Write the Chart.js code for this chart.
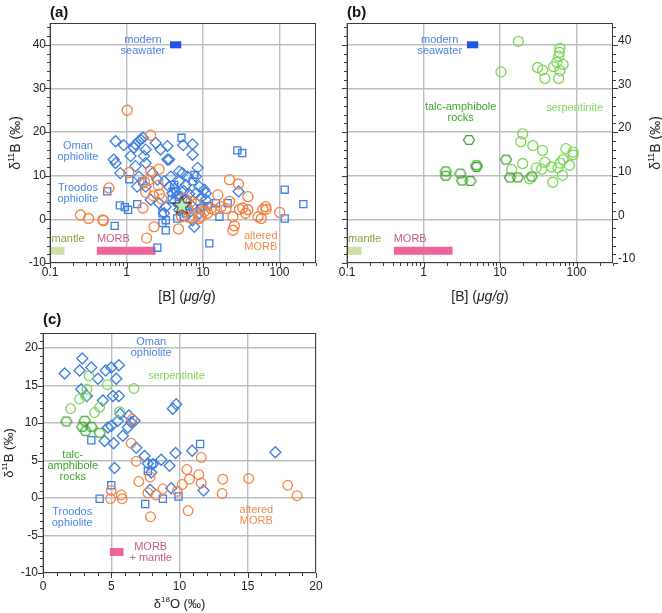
<!DOCTYPE html>
<html>
<head>
<meta charset="utf-8">
<script src="https://cdn.jsdelivr.net/npm/chart.js@4.4.1/dist/chart.umd.min.js"></script>
<style>
  body { margin: 0; background: #fff; width: 662px; height: 613px; position: relative; overflow: hidden; }
  canvas { position: absolute; }
</style>
</head>
<body>
<canvas id="ca" width="330" height="310" style="left:0;top:0"></canvas>
<canvas id="cb" width="332" height="310" style="left:330px;top:0"></canvas>
<canvas id="cc" width="330" height="313" style="left:0;top:300px"></canvas>
<script>
  // --- tick values ---
  const bMajor = [0.1, 1, 10, 100];
  const bMinor = [0.2, 0.3, 0.4, 0.5, 0.6, 0.7, 0.8, 0.9, 2, 3, 4, 5, 6, 7, 8, 9, 20, 30, 40, 50, 60, 70, 80, 90, 200, 300];
  const d11Major = [-10, 0, 10, 20, 30, 40];
  const d11Minor = [-8, -6, -4, -2, 2, 4, 6, 8, 12, 14, 16, 18, 22, 24, 26, 28, 32, 34, 36, 38, 42, 44];
  const o18Major = [0, 5, 10, 15, 20];
  const o18Minor = [1, 2, 3, 4, 6, 7, 8, 9, 11, 12, 13, 14, 16, 17, 18, 19];
  const d11MajorC = [-10, -5, 0, 5, 10, 15, 20];
  const d11MinorC = [-9, -8, -7, -6, -4, -3, -2, -1, 1, 2, 3, 4, 6, 7, 8, 9, 11, 12, 13, 14, 16, 17, 18, 19, 21, 22];

  // --- (a) [B] (ug/g) vs d11B ---
  const omanA = [[0.72,17.9],[0.92,17.0],[0.68,13.7],[0.72,12.9],[0.83,10.6],[1.13,14.5],[1.25,16.4],[1.31,17.2],[1.45,17.9],[1.53,18.3],
    [1.64,18.7],[1.31,12.2],[1.69,14.5],[1.78,16.0],[1.78,12.9],[2.41,17.5],[2.8,16.0],[3.43,16.8],[3.43,13.7],[5.5,17.0],
    [7.3,17.2],[7.31,14.8],[8.51,11.8],[3.61,13.7],[5.4,10.6],[1.45,9.8],[2.18,10.6],[2.53,9.1],[3.79,9.8],[4.88,11.0],
    [6.28,9.8],[8.09,9.8],[1.38,7.5],[1.78,7.5],[3.1,8.7],[3.61,7.5],[4.88,8.7],[5.98,7.9],[8.95,7.5],[10.4,6.8],
    [10.9,6.0],[2.07,4.5],[2.66,3.7],[3.26,2.9],[3.99,6.0],[5.14,5.2],[5.98,4.5],[8.09,6.0],[10.9,4.5],[9.9,2.9],
    [3.1,1.4],[4.88,2.2],[7.31,-0.2],[7.69,-1.7],[8.95,1.4],[4.2,7.0],[4.6,5.5],[5.6,6.5],[6.6,5.8],[7.2,3.0],
    [6.3,2.0],[4.3,4.2],[9.5,5.0],[29.2,6.4]];
  const troodosA = [[5.24,18.7],[28.1,15.8],[32.6,15.2],[0.56,6.4],[0.82,3.2],[0.95,2.8],[1.05,2.2],[1.09,9.2],[1.38,3.5],[0.70,-1.5],
    [2.53,-6.5],[12.1,-5.5],[117,6.8],[117,0.2],[205,3.5],[16.4,0.6],[14.8,3.7],[21,3.7],[2.95,1.4],[3.26,-0.2],
    [3.26,-2.5],[2.95,-0.8],[4.6,0.2],[6.0,1.4],[7.7,10.2],[7.3,8.7],[4.2,7.9],[4.4,6.4],[1.61,8.7],[3.9,4.5],
    [5.6,0.5],[9.2,2.5],[11.5,3.0]];
  const alteredA = [[1.02,25.0],[2.07,19.3],[1.07,10.7],[2.66,11.5],[2.07,11.0],[1.72,8.6],[1.78,6.2],[2.6,7.8],[2.24,5.4],[2.7,5.8],
    [0.59,7.2],[0.25,1.0],[0.32,0.2],[0.49,-0.1],[0.5,-0.3],[1.64,2.6],[2.29,-1.7],[1.83,-4.3],[4.78,-2.2],[6.28,2.2],
    [5.25,0.6],[8.1,3.5],[8.9,0.2],[11.5,1.4],[15.6,5.6],[14.1,2.2],[17.2,2.9],[22.2,9.1],[29.1,8.1],[22.2,4.1],
    [24.6,0.6],[24.6,-2.5],[25.7,-1.5],[30,2.3],[38.7,5.2],[38.7,2.2],[36,1.4],[52.5,0.6],[57.9,0.2],[66,2.9],
    [67,2.3],[60.7,2.3],[100.7,1.6],[7.0,4.1],[9.4,0.6],[10.4,1.8],[12.7,2.5],[7.2,0.3],[6.5,0.5],[5.8,4.8],
    [20,2.5],[33,2.6],[2.9,4.7],[1.95,9.0]];
  const refMeanA = [[5.3, 3.3]];

  // --- (b) ---
  const serpB = [[17.4,40.8],[10.3,33.8],[31,34.8],[36,34.2],[38.6,32.3],[50.3,35.0],[55.2,36.0],[60.7,39.2],[60,38.3],[58.5,37.4],
    [60.7,34.1],[58.5,32.3],[66.8,35.5],[19.8,19.6],[18.7,17.8],[26.9,16.9],[36,15.8],[19.8,12.8],[14.2,11.4],[38.6,13.1],
    [29.7,11.8],[35,11.5],[47,12.0],[57.3,11.8],[61,12.9],[66.8,13.7],[72.6,16.2],[90,15.4],[90,14.8],[80.8,12.4],
    [65.5,10.1],[49,8.5],[24.3,9.3]];
  const talcB = [[3.94,18.2],[1.95,11.0],[1.95,10.0],[3.03,10.5],[3.2,8.9],[4.1,8.8],[4.93,12.4],[4.93,12.0],[12.0,13.7],[13.5,9.6],
    [17.1,9.6],[26,9.8]];

  // reference ranges (B in ug/g, d11B)
  const seawaterB = [3.7, 5.2], seawaterD11 = 40;
  const mantleB = [0.1, 0.155], morbB = [0.41, 2.4], morbD11 = -7.2;

  // --- (c) d18O vs d11B ---
  const omanC = [[1.59,16.6],[2.88,18.6],[2.68,17.0],[3.54,17.4],[4.02,15.9],[4.59,17.0],[5.0,17.4],[5.56,17.7],[5.37,15.9],[2.8,14.5],
    [3.22,13.6],[4.39,13.0],[5.12,13.6],[5.56,13.6],[4.76,9.4],[5.0,9.6],[5.49,10.3],[5.66,11.2],[5.85,8.3],[6.22,9.4],
    [6.29,11.0],[6.46,10.1],[6.71,10.3],[4.51,7.6],[5.17,7.3],[5.24,4.0],[6.83,6.7],[7.44,5.6],[7.68,4.6],[7.93,3.4],
    [8.05,4.5],[8.66,5.1],[9.27,4.3],[9.39,1.3],[9.71,6.0],[9.51,11.9],[9.76,12.5],[10.93,6.3],[11.76,1.0],[17.02,6.1],
    [7.85,1.1]];
  const troodosC = [[3.54,7.7],[4.15,-0.1],[5.0,1.7],[7.49,-0.8],[7.68,3.6],[8.0,4.6],[8.78,-0.1],[9.93,0.2],[11.51,7.2]];
  const alteredC = [[6.54,10.5],[6.46,7.3],[6.83,4.9],[7.02,2.2],[5.0,1.0],[4.95,-0.1],[5.73,0.4],[5.8,-0.1],[7.68,0.7],[7.85,2.8],
    [7.88,-2.5],[8.29,0.4],[8.78,1.2],[9.83,0.9],[10.2,1.8],[10.54,3.8],[10.73,2.5],[10.63,-1.7],[11.41,3.1],[11.59,5.4],
    [11.59,2.0],[13.17,2.5],[13.12,0.6],[15.07,2.6],[17.93,1.7],[18.61,0.3]];
  const serpC = [[3.37,16.3],[3.22,14.5],[2.68,13.2],[2.02,11.9],[3.12,13.6],[3.78,11.4],[4.15,12.1],[4.71,15.1],[5.61,11.5],[6.66,14.6]];
  const talcC = [[1.71,10.2],[3.05,10.3],[2.88,9.5],[3.12,8.9],[3.54,9.5],[4.15,8.7]];
  const morbMantleO = [4.9, 5.9], morbMantleD11 = -7.2;

  const FONT = '"Liberation Sans", Arial, Helvetica, sans-serif';
  const BLUE = '#3c7ee2', ORANGE = '#f5813f', LGREEN = '#7dd65a', DGREEN = '#3ba52b';
  const PINK = '#f0649c', MANTLE = '#cfe0a6', SEA = '#1f55e6';
  const TXT_BLUE = '#4a84e4', TXT_ORANGE = '#f28a4e', TXT_MANTLE = '#8e9d3f', TXT_MORB = '#c65b8c';

  function hexImg(r, color, lw) {
    const s = Math.ceil(2 * r + 2 * lw + 2);
    const c = document.createElement("canvas"); c.width = c.height = s;
    const g = c.getContext("2d");
    g.strokeStyle = color; g.lineWidth = lw; g.beginPath();
    for (let i = 0; i < 6; i++) {
      const t = i * Math.PI / 3, px = s / 2 + r * Math.cos(t), py = s / 2 + r * 0.9 * Math.sin(t);
      i ? g.lineTo(px, py) : g.moveTo(px, py);
    }
    g.closePath(); g.stroke();
    return c;
  }
  function starImg(ro, ri) {
    const s = Math.ceil(2 * ro + 4);
    const c = document.createElement("canvas"); c.width = c.height = s;
    const g = c.getContext("2d");
    g.beginPath();
    for (let i = 0; i < 10; i++) {
      const r = i % 2 ? ri : ro, t = -Math.PI / 2 + i * Math.PI / 5;
      const px = s / 2 + r * Math.cos(t), py = s / 2 + 1 + r * Math.sin(t);
      i ? g.lineTo(px, py) : g.moveTo(px, py);
    }
    g.closePath();
    g.fillStyle = "#b9efb4"; g.fill();
    g.strokeStyle = "#111"; g.lineWidth = 1; g.stroke();
    return c;
  }
  const HEX = hexImg(5.5, DGREEN, 1.3);
  const STAR = starImg(9.5, 4);

  const pts = (arr) => arr.map((p) => ({ x: p[0], y: p[1] }));
  function pointSet(arr, style, color, r) {
    return { data: pts(arr), pointStyle: style, pointRadius: r, borderColor: color, pointBorderColor: color,
      backgroundColor: "rgba(0,0,0,0)", pointBackgroundColor: "rgba(0,0,0,0)", pointBorderWidth: 1.3, showLine: false };
  }
  function barSet(xr, y, color, w) {
    return { data: [{ x: xr[0], y: y }, { x: xr[1], y: y }], showLine: true, borderColor: color, borderWidth: w,
      borderCapStyle: "butt", pointRadius: 0, fill: false };
  }

  function drawSegs(ctx, segs, x, y, size, align) {
    const fontOf = (s) => `${s.it ? "italic " : ""}${s.sup ? Math.round(size * 0.62) : size}px ${FONT}`;
    let w = 0;
    segs.forEach((s) => { ctx.font = fontOf(s); s.w = ctx.measureText(s.t).width; w += s.w; });
    let cx = align === "center" ? x - w / 2 : x;
    ctx.textAlign = "left"; ctx.textBaseline = "alphabetic";
    segs.forEach((s) => { ctx.font = fontOf(s); ctx.fillText(s.t, cx, y - (s.sup ? size * 0.4 : 0)); cx += s.w; });
  }

  // frame, tick marks, in-plot labels, axis titles
  const panelPlugin = {
    id: "panel",
    afterDraw(chart, args, o) {
      const ctx = chart.ctx, a = chart.chartArea, sx = chart.scales.x, sy = chart.scales.y;
      ctx.save();
      ctx.strokeStyle = "#3a3a3a"; ctx.lineWidth = 1;
      ctx.strokeRect(Math.round(a.left) + 0.5, Math.round(a.top) + 0.5, Math.round(a.right - a.left) - 1, Math.round(a.bottom - a.top) - 1);
      const tick = (v, len, axis, side) => {
        ctx.beginPath();
        if (axis === "x") {
          const p = Math.round(sx.getPixelForValue(v)) + 0.5;
          ctx.moveTo(p, a.bottom); ctx.lineTo(p, a.bottom + len);
        } else {
          const p = Math.round(sy.getPixelForValue(v)) + 0.5;
          const e = side === "left" ? a.left : a.right;
          ctx.moveTo(e, p); ctx.lineTo(e + (side === "left" ? -len : len), p);
        }
        ctx.stroke();
      };
      o.xMajor.forEach((v) => tick(v, 5, "x"));
      o.xMinor.forEach((v) => tick(v, 3, "x"));
      o.ySides.forEach((s) => {
        o.yMajor.forEach((v) => tick(v, 5, "y", s));
        o.yMinor.forEach((v) => tick(v, 3, "y", s));
      });

      ctx.font = `11px ${FONT}`; ctx.textAlign = "center"; ctx.textBaseline = "middle";
      o.labels.forEach((l) => {
        const x = sx.getPixelForValue(l.x), y = sy.getPixelForValue(l.y);
        ctx.fillStyle = l.color;
        l.lines.forEach((t, i) => ctx.fillText(t, x, y + i * 11));
      });

      ctx.fillStyle = "#222";
      drawSegs(ctx, o.xTitle, (a.left + a.right) / 2 + (o.xTitleDx || 0), a.bottom + o.xTitleOff, o.titleSize, "center");
      const yt = o.yTitleSide === "left" ? a.left - o.yTitleOff : a.right + o.yTitleOff;
      ctx.save();
      ctx.translate(yt, (a.top + a.bottom) / 2);
      ctx.rotate(-Math.PI / 2);
      drawSegs(ctx, o.yTitle, 0, o.titleSize * 0.35, o.titleSize, "center");
      ctx.restore();

      ctx.font = `bold 15px ${FONT}`; ctx.textAlign = "left"; ctx.textBaseline = "middle"; ctx.fillStyle = "#111";
      ctx.fillText(o.letter, a.left, o.letterY);
      ctx.restore();
    }
  };

  function makePanel(id, c) {
    new Chart(document.getElementById(id), {
      type: "scatter",
      data: { datasets: c.datasets },
      plugins: [panelPlugin],
      options: {
        responsive: false, animation: false, events: [],
        layout: { padding: c.padding },
        plugins: { legend: { display: false }, tooltip: { enabled: false }, panel: c.panel },
        scales: {
          x: {
            type: c.xType, min: c.xMin, max: c.xMax, position: "bottom",
            afterBuildTicks: (s) => { s.ticks = c.panel.xMajor.map((v) => ({ value: v })); },
            afterFit: (s) => { s.height = c.xH; },
            ticks: { font: { family: FONT, size: 12 }, color: "#222", padding: c.xPad, maxRotation: 0, autoSkip: false,
              callback: (v) => String(v) },
            grid: { color: "#bdbdbd", lineWidth: 1.4, drawTicks: false },
            border: { display: false }
          },
          y: {
            type: "linear", min: c.yMin, max: c.yMax, position: c.yPos,
            afterBuildTicks: (s) => { s.ticks = c.panel.yMajor.map((v) => ({ value: v })); },
            afterFit: (s) => { s.width = c.yW; },
            ticks: { font: { family: FONT, size: 12 }, color: "#222", padding: c.yPad, labelOffset: c.yLabelOffset || 0,
              callback: (v) => String(v) },
            grid: { color: "#bdbdbd", lineWidth: 1.4, drawTicks: false },
            border: { display: false }
          }
        }
      }
    });
  }

  const bTitle = [{ t: "[B] (" }, { t: "μg/g", it: true }, { t: ")" }];
  const d11Title = [{ t: "δ" }, { t: "11", sup: true }, { t: "B (‰)" }];
  const o18Title = [{ t: "δ" }, { t: "18", sup: true }, { t: "O (‰)" }];

  makePanel("ca", {
    xType: "logarithmic", xMin: 0.1, xMax: 300, yMin: -10, yMax: 45, yPos: "left",
    padding: { left: 0, top: 23, right: 14, bottom: 0 }, yW: 50, xH: 47, xPad: 2, yPad: 4,
    datasets: [
      pointSet(refMeanA, STAR, "#111", 6),
      pointSet(alteredA, "circle", ORANGE, 5),
      pointSet(omanA, "rectRot", BLUE, 5.5),
      pointSet(troodosA, "rect", BLUE, 5),
      barSet(seawaterB, seawaterD11, SEA, 7),
      barSet(mantleB, morbD11, MANTLE, 8),
      barSet(morbB, morbD11, PINK, 8)
    ],
    panel: {
      letter: "(a)", letterY: 12.5, xMajor: bMajor, xMinor: bMinor, yMajor: d11Major, yMinor: d11Minor, ySides: ["left"],
      titleSize: 14, xTitle: bTitle, xTitleOff: 38, xTitleDx: 4, yTitle: d11Title, yTitleSide: "left", yTitleOff: 35,
      labels: [
        { lines: ["modern", "seawater"], x: 1.64, y: 41.2, color: TXT_BLUE },
        { lines: ["Oman", "ophiolite"], x: 0.232, y: 16.9, color: TXT_BLUE },
        { lines: ["Troodos", "ophiolite"], x: 0.232, y: 7.2, color: TXT_BLUE },
        { lines: ["mantle"], x: 0.172, y: -4.5, color: TXT_MANTLE },
        { lines: ["MORB"], x: 0.674, y: -4.5, color: TXT_MORB },
        { lines: ["altered", "MORB"], x: 56.9, y: -3.8, color: TXT_ORANGE }
      ]
    }
  });

  makePanel("cb", {
    xType: "logarithmic", xMin: 0.1, xMax: 300, yMin: -10, yMax: 45, yPos: "right",
    padding: { left: 17, top: 23, right: 0, bottom: 0 }, yW: 49, xH: 47, xPad: 2, yPad: 5, yLabelOffset: -4,
    datasets: [
      pointSet(talcB, HEX, DGREEN, 5.5),
      pointSet(serpB, "circle", LGREEN, 5),
      barSet(seawaterB, seawaterD11, SEA, 7),
      barSet(mantleB, morbD11, MANTLE, 8),
      barSet(morbB, morbD11, PINK, 8)
    ],
    panel: {
      letter: "(b)", letterY: 12.5, xMajor: bMajor, xMinor: bMinor, yMajor: d11Major, yMinor: d11Minor, ySides: ["left", "right"],
      titleSize: 14, xTitle: bTitle, xTitleOff: 38, yTitle: d11Title, yTitleSide: "right", yTitleOff: 42,
      labels: [
        { lines: ["modern", "seawater"], x: 1.63, y: 41.2, color: TXT_BLUE },
        { lines: ["talc-amphibole", "rocks"], x: 3.06, y: 25.7, color: DGREEN },
        { lines: ["serpentinite"], x: 94.6, y: 25.6, color: LGREEN },
        { lines: ["mantle"], x: 0.17, y: -4.5, color: TXT_MANTLE },
        { lines: ["MORB"], x: 0.67, y: -4.5, color: TXT_MORB }
      ]
    }
  });

  makePanel("cc", {
    xType: "linear", xMin: 0, xMax: 20, yMin: -10, yMax: 22, yPos: "left",
    padding: { left: 0, top: 33, right: 14, bottom: 0 }, yW: 43, xH: 40, xPad: 6, yPad: 5,
    datasets: [
      pointSet(alteredC, "circle", ORANGE, 4.8),
      pointSet(serpC, "circle", LGREEN, 4.8),
      pointSet(talcC, HEX, DGREEN, 5.5),
      pointSet(omanC, "rectRot", BLUE, 5.5),
      pointSet(troodosC, "rect", BLUE, 5),
      barSet(morbMantleO, morbMantleD11, PINK, 8)
    ],
    panel: {
      letter: "(c)", letterY: 20, xMajor: o18Major, xMinor: o18Minor, yMajor: d11MajorC, yMinor: d11MinorC, ySides: ["left"],
      titleSize: 13, xTitle: o18Title, xTitleOff: 34.5, yTitle: d11Title, yTitleSide: "left", yTitleOff: 35,
      labels: [
        { lines: ["Oman", "ophiolite"], x: 7.93, y: 20.75, color: TXT_BLUE },
        { lines: ["serpentinite"], x: 9.77, y: 16.3, color: LGREEN },
        { lines: ["talc-", "amphibole", "rocks"], x: 2.18, y: 5.8, color: DGREEN },
        { lines: ["Troodos", "ophiolite"], x: 2.14, y: -1.8, color: TXT_BLUE },
        { lines: ["altered", "MORB"], x: 15.63, y: -1.57, color: TXT_ORANGE },
        { lines: ["MORB", "+ mantle"], x: 7.89, y: -6.48, color: TXT_MORB }
      ]
    }
  });
</script>
</body>
</html>
